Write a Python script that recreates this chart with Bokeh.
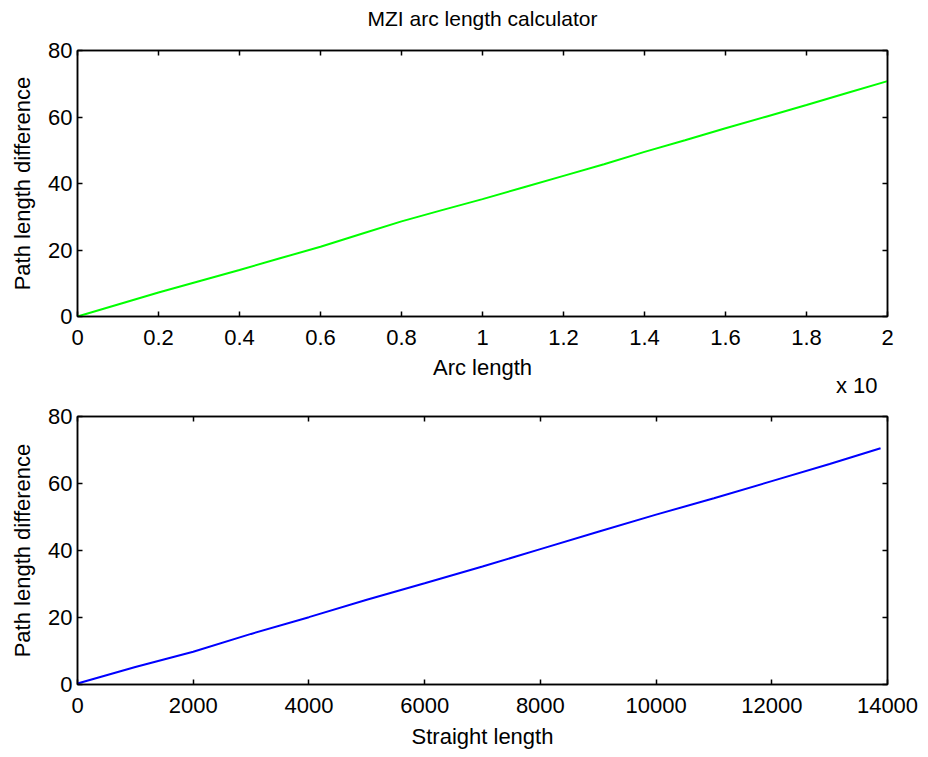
from bokeh.plotting import figure
from bokeh.layouts import column
from bokeh.models import LinearAxis, FixedTicker, Range1d, Title
from bokeh.embed import file_html
from bokeh.resources import INLINE

# ---- data ----
arc_len = [0.0, 0.1, 0.2, 0.3, 0.4, 0.5, 0.6, 0.7, 0.8, 0.9, 1.0,
           1.1, 1.2, 1.3, 1.4, 1.5, 1.6, 1.7, 1.8, 1.9, 2.0]
arc_diff = [0.0, 3.6, 7.2, 10.6, 14.0, 17.5, 21.0, 24.8, 28.6, 32.0, 35.3,
            38.8, 42.3, 45.8, 49.5, 53.0, 56.6, 60.1, 63.6, 67.2, 70.8]

straight_len = [0, 1000, 2000, 3000, 4000, 5000, 6000, 7000, 8000, 9000,
                10000, 11000, 12000, 13000, 13880]
straight_diff = [0.3, 5.2, 9.8, 15.1, 20.1, 25.3, 30.2, 35.2, 40.4, 45.6,
                 50.7, 55.6, 60.7, 65.8, 70.5]

top_xticks = [0, 0.2, 0.4, 0.6, 0.8, 1.0, 1.2, 1.4, 1.6, 1.8, 2.0]
top_xlabels = ["0", "0.2", "0.4", "0.6", "0.8", "1", "1.2", "1.4", "1.6", "1.8", "2"]
bot_xticks = [0, 2000, 4000, 6000, 8000, 10000, 12000, 14000]
yticks = [0, 20, 40, 60, 80]

FONT = "Liberation Sans"
FS = "22px"


def tick_only_axis(ticks):
    return LinearAxis(ticker=FixedTicker(ticks=ticks), major_label_text_font_size="0px",
                      major_label_text_color=None,
                      major_tick_in=5, major_tick_out=0, minor_tick_in=0, minor_tick_out=0,
                      axis_line_width=1.5, major_tick_line_width=1.5,
                      major_label_standoff=0)


def style_axes(p, xticks, xlabels=None):
    p.outline_line_color = "black"
    p.outline_line_width = 1.5
    p.grid.visible = False
    p.background_fill_color = "white"
    p.border_fill_color = "white"
    for ax in p.xaxis + p.yaxis:
        ax.major_tick_in = 5
        ax.major_tick_out = 0
        ax.minor_tick_in = 0
        ax.minor_tick_out = 0
        ax.axis_line_width = 1.5
        ax.major_tick_line_width = 1.5
        ax.major_label_text_font = FONT
        ax.major_label_text_font_size = FS
        ax.major_label_text_color = "black"
        ax.axis_label_text_font = FONT
        ax.axis_label_text_font_size = FS
        ax.axis_label_text_font_style = "normal"
        ax.axis_label_text_color = "black"
    p.xaxis.ticker = FixedTicker(ticks=xticks)
    p.yaxis.ticker = FixedTicker(ticks=yticks)
    p.xaxis.major_label_standoff = 13
    p.xaxis.axis_label_standoff = 7
    p.yaxis.major_label_standoff = 5
    p.yaxis.axis_label_standoff = 10
    if xlabels is not None:
        p.xaxis.major_label_overrides = {t: l for t, l in zip(xticks, xlabels)}
    p.add_layout(tick_only_axis(xticks), "above")
    p.add_layout(tick_only_axis(yticks), "right")


p1 = figure(width=928, height=403, output_backend="svg", toolbar_location=None,
            x_range=Range1d(0, 2), y_range=Range1d(0, 80),
            min_border_left=77, min_border_right=41, min_border_top=50, min_border_bottom=87,
            title="MZI arc length calculator")
p1.title.align = "center"
p1.title.text_font = FONT
p1.title.text_font_size = "21px"
p1.title.text_font_style = "normal"
p1.title.text_color = "black"
p1.title.standoff = 2
_pad_ok = False
for _pad in (dict(top=0, right=0, bottom=20, left=0), (0, 0, 20, 0)):
    try:
        p1.title.padding = _pad
        _pad_ok = True
        break
    except Exception:
        pass
if not _pad_ok:
    p1.title.standoff = 26
p1.line(arc_len, arc_diff, line_color="#00ff00", line_width=2)
p1.xaxis.axis_label = "Arc length"
p1.yaxis.axis_label = "Path length difference"
style_axes(p1, top_xticks, top_xlabels)

exp_title = Title(text="x 10", align="right", offset=10, text_font=FONT,
                  text_font_size=FS, text_font_style="normal", text_color="black")
try:
    exp_title.standoff = -24
except Exception:
    exp_title.standoff = 0
p1.add_layout(exp_title, "below")

p2 = figure(width=928, height=354, output_backend="svg", toolbar_location=None,
            x_range=Range1d(0, 14000), y_range=Range1d(0, 80),
            min_border_left=77, min_border_right=41, min_border_top=13, min_border_bottom=73)
p2.line(straight_len, straight_diff, line_color="#0000ff", line_width=2)
p2.xaxis.axis_label = "Straight length"
p2.yaxis.axis_label = "Path length difference"
style_axes(p2, bot_xticks)
p2.xaxis.axis_label_standoff = 8

layout = column(p1, p2, spacing=0)
open("out.html", "w").write(file_html(layout, INLINE))
